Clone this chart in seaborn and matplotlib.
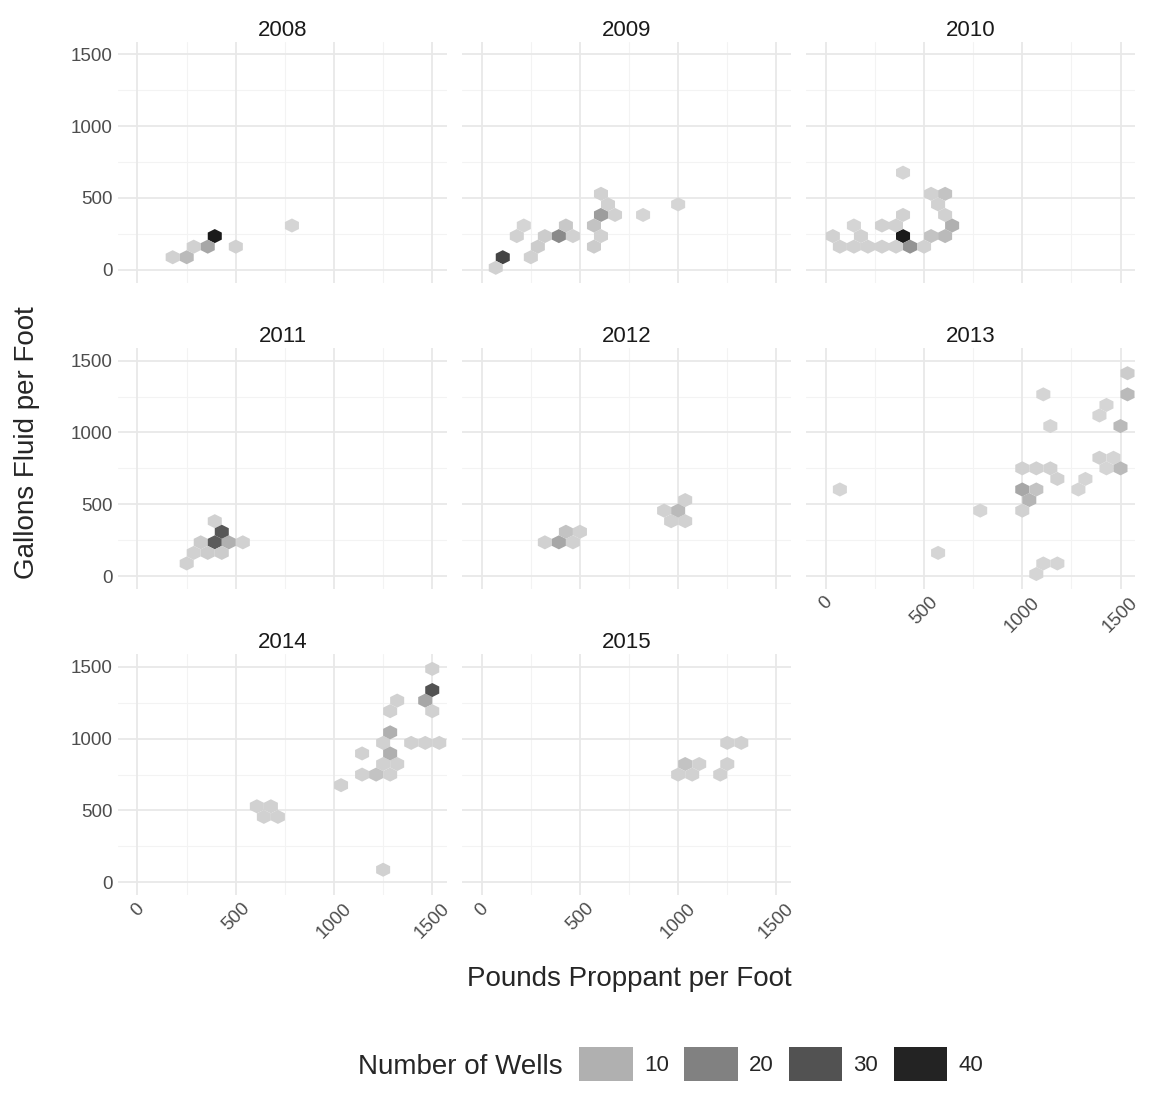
import numpy as np
import matplotlib
matplotlib.use("Agg")
import matplotlib.pyplot as plt
import seaborn as sns
from matplotlib.colors import LinearSegmentedColormap
from matplotlib.patches import Patch

sns.set_style("white")
plt.rcParams["font.family"] = ["Liberation Sans", "DejaVu Sans"]

# ── Data: hex centres (proppant, fluid, wells) per year ───────────────────────
years = [2008, 2009, 2010, 2011, 2012, 2013, 2014, 2015]

x_2008 = [187, 263, 303, 374, 414, 490, 788]
y_2008 = [69, 69, 138, 138, 200, 200, 332]
n_2008 = [3, 8, 3, 12, 42, 3, 2]

x_2009 = [76, 116, 192, 192, 268, 300, 340, 414, 414, 465, 566, 566, 606, 641, 606, 682, 596, 828, 1015]
y_2009 = [0, 69, 325, 200, 69, 200, 255, 200, 325, 255, 200, 325, 510, 430, 395, 395, 255, 395, 455]
n_2009 = [3, 33, 2, 3, 3, 4, 4, 18, 5, 3, 4, 6, 3, 3, 14, 3, 3, 2, 2]

x_2010 = [45, 45, 120, 120, 195, 195, 260, 260, 340, 340, 375, 410, 410, 410, 410, 480, 555, 555, 590, 590, 590, 630, 630, 630, 555]
y_2010 = [150, 255, 150, 325, 150, 255, 325, 150, 325, 150, 200, 255, 150, 395, 660, 150, 255, 500, 530, 430, 200, 325, 500, 400, 200]
n_2010 = [3, 3, 3, 2, 3, 3, 3, 3, 3, 3, 18, 25, 16, 3, 2, 3, 3, 3, 3, 3, 8, 10, 3, 3, 3]

x_2011 = [227, 262, 303, 340, 374, 414, 414, 414, 414, 455, 455, 525]
y_2011 = [76, 150, 205, 150, 205, 325, 395, 270, 150, 325, 220, 205]
n_2011 = [3, 3, 4, 4, 28, 4, 3, 15, 4, 10, 10, 3]

x_2012 = [343, 414, 455, 490, 490, 934, 975, 1010, 1050, 1050]
y_2012 = [220, 220, 290, 345, 220, 465, 405, 465, 540, 405]
n_2012 = [3, 12, 6, 3, 3, 3, 3, 8, 3, 3]

x_2013 = [70, 560, 780, 1000, 1000, 1030, 1030, 1060, 1060, 1100, 1130, 1170, 1130, 1160, 1100,
          1130, 1170, 1290, 1320, 1390, 1390, 1430, 1430, 1500, 1500, 1500, 1500, 1430]
y_2013 = [640, 190, 450, 760, 510, 580, 440, 640, 720, 580, 760, 700, 1280, 1030, 0,
          60, 130, 640, 700, 830, 1090, 1150, 770, 770, 1030, 1280, 1410, 830]
n_2013 = [2, 2, 2, 3, 9, 12, 3, 3, 3, 3, 3, 3, 2, 2, 2,
          2, 2, 2, 2, 3, 2, 2, 2, 8, 8, 8, 4, 2]

x_2014 = [632, 667, 707, 742, 1000, 1151, 1151, 1190, 1225, 1260, 1225, 1260, 1298, 1298, 1298,
          1298, 1338, 1273, 1420, 1465, 1500, 1500, 1500, 1465, 1500]
y_2014 = [530, 463, 530, 463, 660, 910, 785, 720, 785, 720, 850, 1000, 1250, 1040, 920,
          1180, 850, 80, 990, 990, 990, 1230, 1490, 1300, 1360]
n_2014 = [3, 3, 3, 3, 3, 3, 3, 3, 3, 3, 3, 3, 3, 10, 10,
          3, 3, 3, 3, 3, 3, 3, 3, 12, 30]

x_2015 = [975, 1010, 1050, 1050, 1090, 1200, 1240, 1240, 1313]
y_2015 = [750, 800, 860, 760, 800, 750, 800, 940, 940]
n_2015 = [3, 3, 3, 3, 3, 3, 3, 3, 3]

data = {
    2008: (x_2008, y_2008, n_2008), 2009: (x_2009, y_2009, n_2009),
    2010: (x_2010, y_2010, n_2010), 2011: (x_2011, y_2011, n_2011),
    2012: (x_2012, y_2012, n_2012), 2013: (x_2013, y_2013, n_2013),
    2014: (x_2014, y_2014, n_2014), 2015: (x_2015, y_2015, n_2015),
}

legend_counts = [10, 20, 30, 40]

# ── Plot ──────────────────────────────────────────────────────────────────────
cmap = LinearSegmentedColormap.from_list("greys", ["#dadada", "#1a1a1a"])
norm = plt.Normalize(1, 42)

fig, axes = plt.subplots(3, 3, figsize=(11.55, 10.93), dpi=100)
fig.subplots_adjust(left=0.102, right=0.983, top=0.962, bottom=0.181, wspace=0.045, hspace=0.27)

for i, ax in enumerate(axes.flat):
    if i >= len(years):
        ax.set_visible(False)
        continue
    yr = years[i]
    xs, ys, ns = data[yr]
    for v in [250, 750, 1250]:
        ax.axvline(v, color="#f3f3f3", lw=0.8, zorder=0)
        ax.axhline(v, color="#f3f3f3", lw=0.8, zorder=0)
    for v in [0, 500, 1000, 1500]:
        ax.axvline(v, color="#e8e8e8", lw=1.3, zorder=0)
        ax.axhline(v, color="#e8e8e8", lw=1.3, zorder=0)
    ax.hexbin(xs, ys, C=ns, reduce_C_function=np.sum, gridsize=(22, 11),
              extent=(-35, 1535, -60, 1560), cmap=cmap, norm=norm,
              linewidths=0, zorder=2)
    ax.set_xlim(-100, 1575)
    ax.set_ylim(-90, 1590)
    ax.set_title(str(yr), fontsize=16, color="#1a1a1a", pad=4)
    for s in ax.spines.values():
        s.set_visible(False)
    ax.set_xticks([0, 500, 1000, 1500])
    ax.set_yticks([0, 500, 1000, 1500])
    ax.tick_params(length=0, labelsize=13.5, labelcolor="#4d4d4d")
    col = i % 3
    if yr in (2013, 2014, 2015):
        ax.set_xticklabels(["0", "500", "1000", "1500"], rotation=45, ha="center", va="top")
    else:
        ax.set_xticklabels([])
    if col != 0:
        ax.set_yticklabels([])

fig.text(0.545, 0.098, "Pounds Proppant per Foot", ha="center", fontsize=20)
fig.text(0.012, 0.595, "Gallons Fluid per Foot", va="center", rotation=90, fontsize=20)

fig.text(0.487, 0.017, "Number of Wells", ha="right", fontsize=20)
handles = [Patch(facecolor=cmap(norm(c)), edgecolor="none") for c in legend_counts]
fig.legend(handles, [str(c) for c in legend_counts], loc="center left",
           bbox_to_anchor=(0.492, 0.0265), ncol=4, frameon=False, fontsize=16,
           handlelength=2.4, handleheight=2.0, columnspacing=0.7, handletextpad=0.5,
           borderpad=0)

fig.savefig("out.png", dpi=100)
